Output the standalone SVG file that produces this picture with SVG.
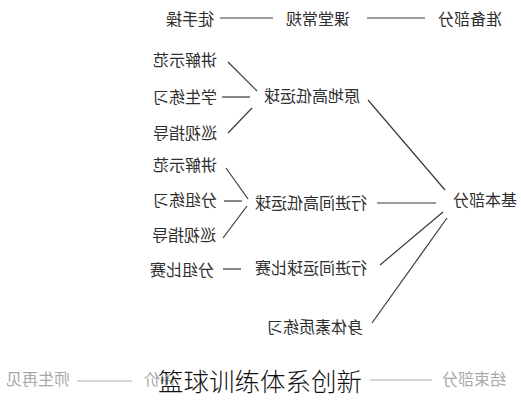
<svg xmlns="http://www.w3.org/2000/svg" width="521" height="400" viewBox="0 0 521 400">
<style>
.t{font-family:"Noto Sans CJK SC","Noto Sans",sans-serif;font-size:16px;fill:#2e2e2e;text-anchor:middle}
.g{fill:#a8a8a8}
.c line{stroke:#3a3a3a;stroke-width:1.2}
.c line.f{stroke:#b0b0b0}
.cap{font-family:"Noto Sans CJK SC","Noto Sans",sans-serif;font-size:25.5px;font-weight:300;fill:#111;text-anchor:middle}
</style>
<rect width="521" height="400" fill="#fff"/>
<g class="c" id="connectors">
<line x1="367" y1="18" x2="425" y2="18"/>
<line x1="220" y1="18" x2="273" y2="18"/>
<line x1="228" y1="62" x2="257" y2="91"/>
<line x1="222" y1="97" x2="250" y2="97"/>
<line x1="228" y1="133" x2="252" y2="108"/>
<line x1="368" y1="100" x2="445" y2="190"/>
<line x1="226" y1="168" x2="248" y2="199"/>
<line x1="224" y1="201" x2="242" y2="201"/>
<line x1="223" y1="238" x2="247" y2="206"/>
<line x1="377" y1="203" x2="436" y2="203"/>
<line x1="223" y1="269" x2="241" y2="269"/>
<line x1="380" y1="265" x2="443" y2="212"/>
<line x1="372" y1="323" x2="447" y2="218"/>
<line class="f" x1="370" y1="380" x2="432" y2="380"/>
<line class="f" x1="77" y1="381" x2="132" y2="381"/>
</g>
<g transform="translate(521,0) scale(-1,1)">
<g id="n-zhunbei"><text class="t" x="51" y="25">准备部分</text></g>
<g id="n-ketang"><text class="t" x="203" y="25">课堂常规</text></g>
<g id="n-tushou"><text class="t" x="331" y="25">徒手操</text></g>
<g id="n-yuandi"><text class="t" x="209" y="102">原地高低运球</text></g>
<g id="n-jiangjie1"><text class="t" x="336" y="66">讲解示范</text></g>
<g id="n-xuesheng"><text class="t" x="336" y="103">学生练习</text></g>
<g id="n-xunshi1"><text class="t" x="336" y="139">巡视指导</text></g>
<g id="n-xingjin1"><text class="t" x="210" y="209">行进间高低运球</text></g>
<g id="n-jiangjie2"><text class="t" x="336" y="171">讲解示范</text></g>
<g id="n-fenzu1"><text class="t" x="336" y="206">分组练习</text></g>
<g id="n-xunshi2"><text class="t" x="337" y="241">巡视指导</text></g>
<g id="n-jiben"><text class="t" x="36" y="206">基本部分</text></g>
<g id="n-xingjin2"><text class="t" x="210" y="274">行进间运球比赛</text></g>
<g id="n-fenzu2"><text class="t" x="339" y="276">分组比赛</text></g>
<g id="n-shenti"><text class="t" x="206" y="333">身体素质练习</text></g>
<g id="n-jieshu"><text class="t g" x="47" y="385">结束部分</text></g>
<g id="n-pingjia"><text class="t g" x="361" y="385">评价</text></g>
<g id="n-shisheng"><text class="t g" x="483" y="385">师生再见</text></g>
</g>
<text class="cap" x="260" y="391">篮球训练体系创新</text>
</svg>
